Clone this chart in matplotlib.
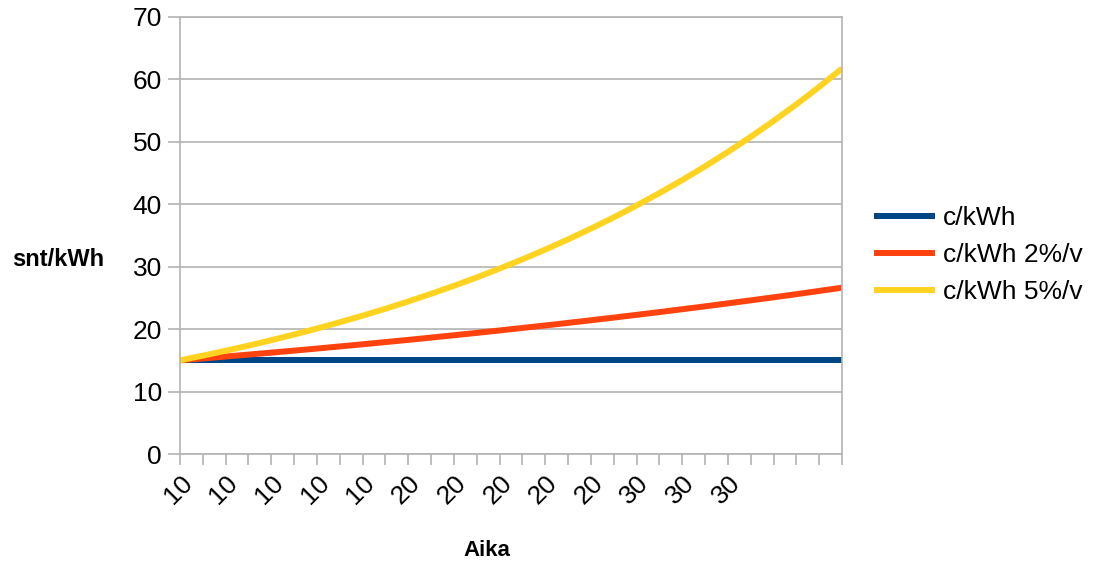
import matplotlib
matplotlib.use("Agg")
import matplotlib.pyplot as plt

plt.rcParams["font.family"] = ["Liberation Sans", "DejaVu Sans"]

# Price per kWh over 30 years: flat, +2 %/year and +5 %/year
years = list(range(30))
flat = [15.00] * 30
rise_2 = [15.00, 15.30, 15.61, 15.92, 16.24, 16.56, 16.89, 17.23, 17.57, 17.93,
          18.28, 18.65, 19.02, 19.40, 19.79, 20.19, 20.59, 21.00, 21.42, 21.85,
          22.29, 22.73, 23.19, 23.65, 24.13, 24.61, 25.10, 25.60, 26.12, 26.64]
rise_5 = [15.00, 15.75, 16.54, 17.36, 18.23, 19.14, 20.10, 21.11, 22.16, 23.27,
          24.43, 25.66, 26.94, 28.28, 29.70, 31.18, 32.74, 34.38, 36.10, 37.90,
          39.80, 41.79, 43.88, 46.07, 48.38, 50.80, 53.34, 56.00, 58.80, 61.74]
series_names = ["c/kWh", "c/kWh 2%/v", "c/kWh 5%/v"]
tick_labels = ["10", "10", "10", "10", "10", "20", "20", "20", "20", "20",
               "30", "30", "30"]

colors = ["#004586", "#ff420e", "#ffd320"]
GRID = "#b3b3b3"

fig = plt.figure(figsize=(10.99, 5.65), dpi=100)
ax = fig.add_axes([180 / 1099, 111 / 565, 662 / 1099, 437 / 565])

lines = []
for vals, name, col in zip([flat, rise_2, rise_5], series_names, colors):
    ln, = ax.plot(years, vals, color=col, linewidth=4.3, label=name,
                  solid_capstyle="butt")
    lines.append(ln)

ax.set_xlim(0, 29)
ax.set_ylim(0, 70)
ax.set_yticks(range(0, 71, 10))
ax.yaxis.grid(True, color=GRID, linewidth=1.2)
ax.set_axisbelow(True)

# every category gets a tick, every second one a label
ax.set_xticks(years)
labels = [""] * len(years)
for i, t in enumerate(tick_labels):
    labels[2 * i] = t
ax.set_xticklabels(labels, rotation=45, ha="right", va="top",
                   rotation_mode="anchor", fontsize=19)
ax.tick_params(axis="y", labelsize=19, length=9, color=GRID, width=1.2, pad=4)
ax.tick_params(axis="x", length=8, color=GRID, width=1.2, pad=4)

for s in ax.spines.values():
    s.set_color(GRID)
    s.set_linewidth(1.2)

fig.text(58 / 1099, 1 - 259 / 565, "snt/kWh", ha="center", va="center",
         fontsize=17, fontweight="bold")
fig.text(487 / 1099, 1 - 550 / 565, "Aika", ha="center", va="center",
         fontsize=16, fontweight="bold")

fig.legend(lines, series_names, loc="center left",
           bbox_to_anchor=(874 / 1099, 1 - 255 / 565), frameon=False,
           borderpad=0, borderaxespad=0,
           fontsize=19, handlelength=2.3, handletextpad=0.3, labelspacing=0.49)

fig.savefig("out.png", dpi=100, facecolor="white")
